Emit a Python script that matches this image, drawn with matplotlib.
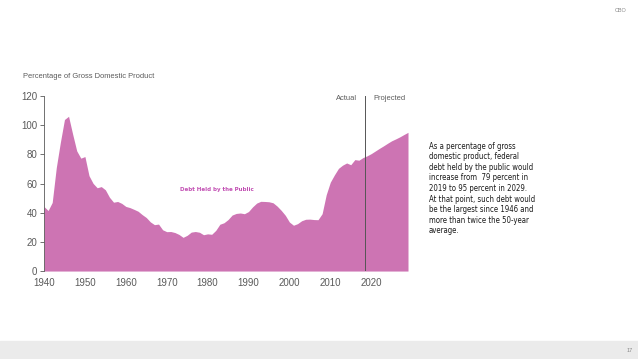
import matplotlib
matplotlib.use("Agg")
import matplotlib.pyplot as plt
import numpy as np

# Federal debt held by the public, percent of GDP (actual through 2018, projected after)
years = np.arange(1940, 2030)
debt = [
    44.2, 41.5, 47.0, 70.9, 88.3, 103.9, 106.1, 93.9, 82.4, 77.4,
    78.5, 65.4, 60.1, 57.1, 57.9, 55.7, 50.6, 47.2, 47.7, 46.4,
    44.3, 43.5, 42.3, 41.0, 38.7, 36.7, 33.7, 31.8, 32.2, 28.3,
    27.0, 27.1, 26.4, 25.1, 23.1, 24.5, 26.7, 27.1, 26.6, 24.9,
    25.5, 25.2, 27.9, 32.1, 33.1, 35.3, 38.4, 39.5, 39.8, 39.3,
    40.8, 44.0, 46.6, 47.8, 47.7, 47.5, 46.8, 44.5, 41.6, 38.2,
    33.6, 31.4, 32.5, 34.5, 35.5, 35.6, 35.3, 35.2, 39.3, 52.3,
    60.9, 65.9, 70.4, 72.6, 74.1, 72.9, 76.4, 76.0, 77.8, 79.0,
    80.5, 82.3, 84.1, 85.8, 87.6, 89.3, 90.6, 92.0, 93.6, 95.1,
]
yticks = [0, 20, 40, 60, 80, 100, 120]
xticks = [1940, 1950, 1960, 1970, 1980, 1990, 2000, 2010, 2020]
split_year = 2018.5
series_label = "Debt Held by the Public"
note = ("As a percentage of gross\n"
        "domestic product, federal\n"
        "debt held by the public would\n"
        "increase from  79 percent in\n"
        "2019 to 95 percent in 2029.\n"
        "At that point, such debt would\n"
        "be the largest since 1946 and\n"
        "more than twice the 50-year\n"
        "average.")

plt.rcParams["font.family"] = ["Liberation Sans Narrow", "Liberation Sans", "DejaVu Sans"]

fill_color = "#cd74b3"
grey = "#5a5a5a"

fig = plt.figure(figsize=(6.38, 3.59), dpi=100)
ax = fig.add_axes([0.069, 0.245, 0.5705, 0.4875])

ax.fill_between(years, debt, 0, color=fill_color, linewidth=0)
ax.set_xlim(1940, 2029)
ax.set_ylim(0, 120)
ax.set_yticks(yticks)
ax.set_xticks(xticks)
ax.tick_params(axis="y", length=3, width=0.6, colors=grey, labelsize=7, pad=2)
ax.tick_params(axis="x", length=0, colors=grey, labelsize=7, pad=5)
for side in ["top", "right", "bottom"]:
    ax.spines[side].set_visible(False)
ax.spines["left"].set_color(grey)
ax.spines["left"].set_linewidth(0.6)

ax.axvline(split_year, color="#555555", linewidth=0.7, ymin=0, ymax=1.0)
ax.text(split_year - 2, 118.5, "Actual", ha="right", va="center", fontsize=5.4, color=grey)
ax.text(split_year + 2, 118.5, "Projected", ha="left", va="center", fontsize=5.4, color=grey)

ax.text(1982.3, 56, series_label, ha="center", va="center", fontsize=4.4,
        fontweight="heavy", color="#c24fb3",
        family=["DejaVu Sans"], fontstretch="condensed")

fig.text(0.036, 0.786, "Percentage of Gross Domestic Product", fontsize=5.4,
         color=grey, ha="left", va="center")

fig.text(0.672, 0.605, note, fontsize=5.6, color="#1a1a1a", ha="left", va="top",
         linespacing=1.22, family=["DejaVu Sans"], fontstretch="condensed")

fig.text(0.982, 0.978, "CBO", fontsize=4, color="#888888", ha="right", va="top")

band = plt.Rectangle((0, 0), 1, 0.05, transform=fig.transFigure, color="#ebebeb",
                     zorder=-1)
fig.patches.append(band)
fig.text(0.992, 0.025, "17", fontsize=4, color="#888888", ha="right", va="center")

fig.savefig("out.png", dpi=100)
